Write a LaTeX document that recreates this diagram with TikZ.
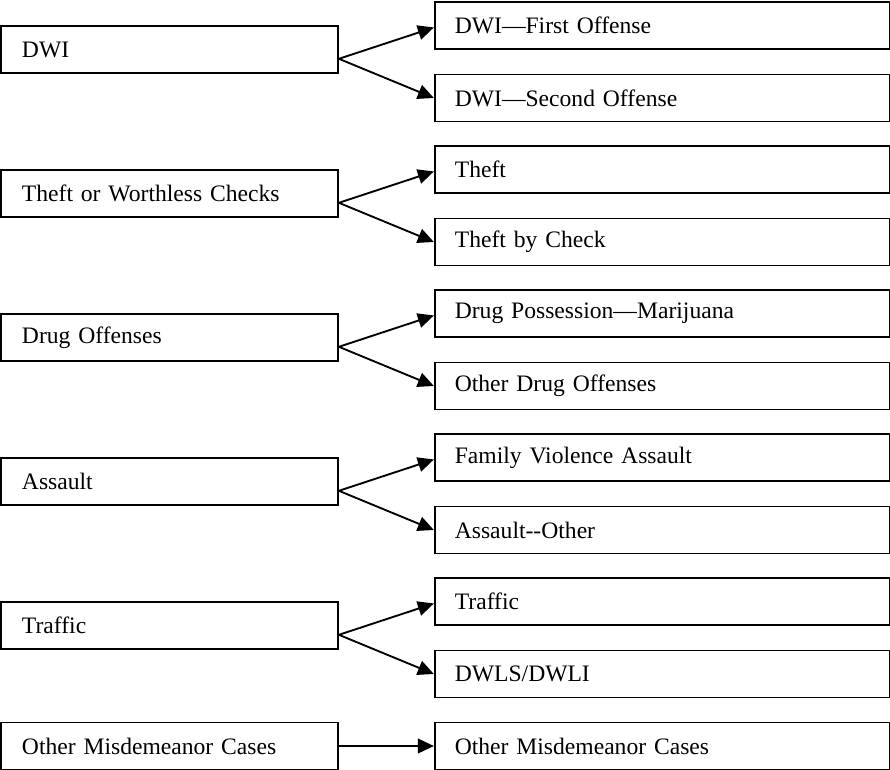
\documentclass[tikz,border=0pt]{standalone}
\usepackage{fontspec}
\setmainfont{Liberation Serif}
\usetikzlibrary{shapes,arrows,arrows.meta,positioning}

\begin{document}
\begin{tikzpicture}[node distance=108pt]
% Define styles
\tikzstyle{leftbox} = [rectangle, draw=black, line width=1.4pt, minimum height=35.25pt, text width=221.25pt, inner xsep=15.75pt, align=left, font=\fontsize{17.7}{20}\selectfont]
\tikzstyle{rightbox} = [rectangle, draw=black, line width=1.4pt, minimum height=35.25pt, text width=311.25pt, inner xsep=15pt, align=left, font=\fontsize{17.7}{20}\selectfont]
\tikzstyle{arrow} = [line width=1.4pt,->,>={Triangle[length=12pt,width=11pt]}]

\useasboundingbox (0,0) rectangle (667.5pt,-576.75pt);

% Draw nodes
\node (dwi) [leftbox] at (127.1pt,-37.1pt) {DWI};
\node (theft) [leftbox, below of=dwi] {Theft or Worthless Checks};
\node (drug) [leftbox, below of=theft] {Drug Offenses};
\node (assault) [leftbox, below of=drug] {Assault};
\node (traffic) [leftbox, below of=assault] {Traffic};
\node (other) [leftbox, below of=traffic, yshift=17.6pt] {Other Misdemeanor Cases};

\node (dwia) [rightbox, right=71.25pt of dwi, yshift=18pt] {DWI—First Offense};
\node (dwib) [rightbox, right=71.25pt of dwi, yshift=-36.4pt] {DWI—Second Offense};
\node (thefta) [rightbox, right=71.25pt of theft, yshift=18pt] {Theft};
\node (theftb) [rightbox, right=71.25pt of theft, yshift=-36.4pt] {Theft by Check};
\node (druga) [rightbox, right=71.25pt of drug, yshift=18pt] {Drug Possession—Marijuana};
\node (drugb) [rightbox, right=71.25pt of drug, yshift=-36.4pt] {Other Drug Offenses};
\node (assaulta) [rightbox, right=71.25pt of assault, yshift=18pt] {Family Violence Assault};
\node (assaultb) [rightbox, right=71.25pt of assault, yshift=-36.4pt] {Assault-\kern0pt-Other};
\node (traffica) [rightbox, right=71.25pt of traffic, yshift=18pt] {Traffic};
\node (trafficb) [rightbox, right=71.25pt of traffic, yshift=-36.4pt] {DWLS/DWLI};
\node (othera) [rightbox, right=71.25pt of other] {Other Misdemeanor Cases};

% Draw arrows
\draw [arrow] ([yshift=-7pt]dwi.east) -- ([yshift=-1.5pt]dwia.west);
\draw [arrow] ([yshift=-7pt]dwi.east) -- (dwib.west);
\draw [arrow] ([yshift=-7pt]theft.east) -- ([yshift=-1.5pt]thefta.west);
\draw [arrow] ([yshift=-7pt]theft.east) -- (theftb.west);
\draw [arrow] ([yshift=-7pt]drug.east) -- ([yshift=-1.5pt]druga.west);
\draw [arrow] ([yshift=-7pt]drug.east) -- (drugb.west);
\draw [arrow] ([yshift=-7pt]assault.east) -- ([yshift=-1.5pt]assaulta.west);
\draw [arrow] ([yshift=-7pt]assault.east) -- (assaultb.west);
\draw [arrow] ([yshift=-7pt]traffic.east) -- ([yshift=-1.5pt]traffica.west);
\draw [arrow] ([yshift=-7pt]traffic.east) -- (trafficb.west);
\draw [arrow] (other) -- (othera);
\end{tikzpicture}
\end{document}
